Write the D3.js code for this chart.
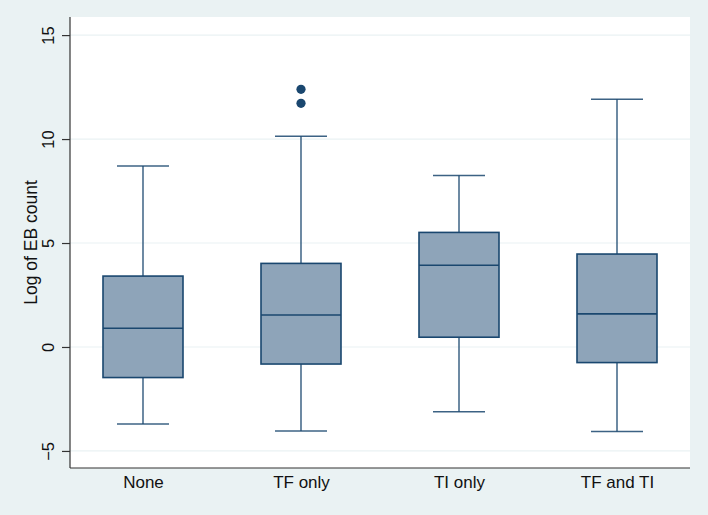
<!DOCTYPE html>
<html>
<head>
<meta charset="utf-8">
<script src="https://cdn.jsdelivr.net/npm/d3@7"></script>
<style>
  html, body { margin: 0; padding: 0; background: #EAF2F3; }
  svg { display: block; }
</style>
</head>
<body>
<svg id="chart" width="708" height="515"></svg>
<script>
// Data
const categories = ["None", "TF only", "TI only", "TF and TI"];
const lowerWhisker = [-3.70, -4.04, -3.11, -4.07];
const q1 = [-1.47, -0.82, 0.47, -0.75];
const median = [0.90, 1.54, 3.93, 1.59];
const q3 = [3.41, 4.02, 5.51, 4.47];
const upperWhisker = [8.70, 10.13, 8.25, 11.92];
const outlierCategory = ["TF only", "TF only"];
const outlierValue = [12.39, 11.72];
const yTicks = [-5, 0, 5, 10, 15];
const yTitle = "Log of EB count";

const svg = d3.select("#chart");
const W = 708, H = 515;
const plot = { left: 70, right: 690, top: 17, bottom: 468 };

svg.append("rect").attr("width", W).attr("height", H).attr("fill", "#EAF2F3");
svg.append("rect")
  .attr("x", plot.left).attr("y", plot.top)
  .attr("width", plot.right - plot.left).attr("height", plot.bottom - plot.top)
  .attr("fill", "#ffffff");

const y = d3.scaleLinear().domain([-5.82, 15.87]).range([plot.bottom, plot.top]);
const x = d3.scalePoint().domain(categories).range([plot.left, plot.right]).padding(0.462);

const font = "'Liberation Sans', Arial, Helvetica, sans-serif";

// gridlines
svg.append("g").selectAll("line").data(yTicks).join("line")
  .attr("x1", plot.left).attr("x2", plot.right)
  .attr("y1", d => y(d)).attr("y2", d => y(d))
  .attr("stroke", "#EAF2F3").attr("stroke-width", 1.2);

const navy = "#1A476F";
const boxW = 80, capW = 52;

const data = categories.map((c, i) => ({
  c, lo: lowerWhisker[i], q1: q1[i], med: median[i], q3: q3[i], hi: upperWhisker[i]
}));

const g = svg.append("g");
data.forEach(d => {
  const cx = x(d.c);
  // whiskers
  g.append("line").attr("x1", cx).attr("x2", cx).attr("y1", y(d.q3)).attr("y2", y(d.hi))
    .attr("stroke", navy).attr("stroke-width", 1.5).attr("stroke-opacity", 0.85);
  g.append("line").attr("x1", cx).attr("x2", cx).attr("y1", y(d.q1)).attr("y2", y(d.lo))
    .attr("stroke", navy).attr("stroke-width", 1.5).attr("stroke-opacity", 0.85);
  g.append("line").attr("x1", cx - capW / 2).attr("x2", cx + capW / 2).attr("y1", y(d.hi)).attr("y2", y(d.hi))
    .attr("stroke", navy).attr("stroke-width", 1.5).attr("stroke-opacity", 0.85);
  g.append("line").attr("x1", cx - capW / 2).attr("x2", cx + capW / 2).attr("y1", y(d.lo)).attr("y2", y(d.lo))
    .attr("stroke", navy).attr("stroke-width", 1.5).attr("stroke-opacity", 0.85);
  // box
  g.append("rect").attr("x", cx - boxW / 2).attr("y", y(d.q3))
    .attr("width", boxW).attr("height", y(d.q1) - y(d.q3))
    .attr("fill", "#8EA4B9").attr("stroke", navy).attr("stroke-width", 1.6);
  g.append("line").attr("x1", cx - boxW / 2).attr("x2", cx + boxW / 2)
    .attr("y1", y(d.med)).attr("y2", y(d.med))
    .attr("stroke", navy).attr("stroke-width", 1.6);
});

// outliers
g.selectAll("circle").data(outlierValue).join("circle")
  .attr("cx", (d, i) => x(outlierCategory[i])).attr("cy", d => y(d))
  .attr("r", 4.6).attr("fill", navy);

// y axis
const yAxis = d3.axisLeft(y).tickValues(yTicks).tickSize(8).tickPadding(5).tickFormat(d3.format("d"));
const ya = svg.append("g").attr("transform", `translate(${plot.left},0)`).call(yAxis);
ya.select(".domain").attr("stroke", "#333").attr("stroke-width", 1.2).attr("d", `M0,${plot.top}V${plot.bottom}`);
ya.selectAll(".tick line").attr("stroke", "#333").attr("stroke-width", 1.2);
ya.selectAll(".tick text")
  .attr("font-family", font).attr("font-size", 16.5).attr("fill", "#111")
  .attr("text-anchor", "middle").attr("dy", null)
  .attr("transform", "translate(-22,0) rotate(-90)")
  .attr("x", 0).attr("y", 0).attr("dominant-baseline", "central");

// x axis
const xAxis = d3.axisBottom(x).tickSize(0).tickPadding(8);
const xa = svg.append("g").attr("transform", `translate(0,${plot.bottom})`).call(xAxis);
xa.select(".domain").attr("stroke", "#333").attr("stroke-width", 1.2).attr("d", `M${plot.left},0H${plot.right}`);
xa.selectAll(".tick text").attr("font-family", font).attr("font-size", 17).attr("fill", "#111");

// y title
svg.append("text")
  .attr("transform", `translate(31,${(plot.top + plot.bottom) / 2}) rotate(-90)`)
  .attr("text-anchor", "middle").attr("dominant-baseline", "central")
  .attr("font-family", font).attr("font-size", 17.5).attr("fill", "#111")
  .text(yTitle);
</script>
</body>
</html>
